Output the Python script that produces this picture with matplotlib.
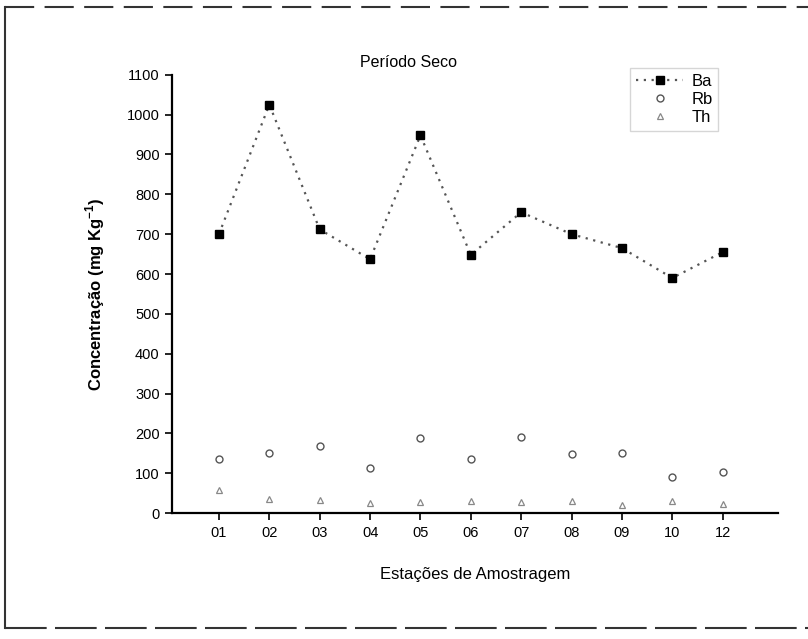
import matplotlib.pyplot as plt
from matplotlib.lines import Line2D

plt.rcParams["font.family"] = ["Liberation Sans", "DejaVu Sans"]

estacoes = ["01", "02", "03", "04", "05", "06", "07", "08", "09", "10", "12"]
ba = [700, 1025, 712, 637, 948, 648, 755, 700, 665, 590, 655]
rb = [135, 152, 168, 112, 189, 136, 192, 148, 152, 90, 102]
th = [58, 35, 33, 25, 29, 30, 27, 30, 21, 31, 22]

pos = list(range(1, len(estacoes) + 1))

fig = plt.figure(figsize=(8.08, 6.39), dpi=100)
ax = fig.add_axes([0.213, 0.197, 0.75, 0.686])

ax.plot(pos, ba, linestyle=(0, (1, 2.5)), color="#555555", linewidth=1.6,
        marker="s", markersize=6, markerfacecolor="black",
        markeredgecolor="black", label="Ba")
ax.plot(pos, rb, linestyle="none", marker="o", markersize=5,
        markerfacecolor="white", markeredgecolor="#555555",
        markeredgewidth=1.0, label="Rb")
ax.plot(pos, th, linestyle="none", marker="^", markersize=5,
        markerfacecolor="white", markeredgecolor="#888888",
        markeredgewidth=0.9, label="Th")

ax.set_xlim(0.07, 12.1)
ax.set_ylim(0, 1100)
ax.set_yticks(range(0, 1101, 100))
ax.set_xticks(pos)
ax.set_xticklabels(estacoes)

for side in ["top", "right"]:
    ax.spines[side].set_visible(False)
ax.spines["left"].set_linewidth(1.6)
ax.spines["bottom"].set_linewidth(1.6)
ax.tick_params(axis="both", direction="out", length=5, width=1.2,
               labelsize=10.5, pad=4)

ax.set_xlabel("Estações de Amostragem", fontsize=12, labelpad=20)
ax.set_ylabel("Concentração (mg Kg$^{\\mathregular{-1}}$)", fontsize=12,
              fontweight="bold", labelpad=14)
ax.text(0.39, 1.01, "Período Seco", transform=ax.transAxes, fontsize=11.5,
        ha="center", va="bottom")

leg = ax.legend(loc="upper right", bbox_to_anchor=(0.915, 1.035), fontsize=12,
                frameon=True, fancybox=False, edgecolor="#cccccc",
                handlelength=2.8, borderpad=0.35, labelspacing=0.2,
                handletextpad=0.5)
leg.get_frame().set_linewidth(1.0)

# outer frame of the scanned figure (top, left, bottom)
frame_kw = dict(transform=fig.transFigure, color="#333333", linewidth=1.5)
fig.lines.append(Line2D([0.006, 1.0], [0.989, 0.989],
                        linestyle=(0, (14, 5)), **frame_kw))
fig.lines.append(Line2D([0.006, 0.006], [0.017, 0.989], **frame_kw))
fig.lines.append(Line2D([0.006, 1.0], [0.017, 0.017],
                        linestyle=(0, (20, 4)), **frame_kw))

fig.savefig("out.png", dpi=100, facecolor="white")
